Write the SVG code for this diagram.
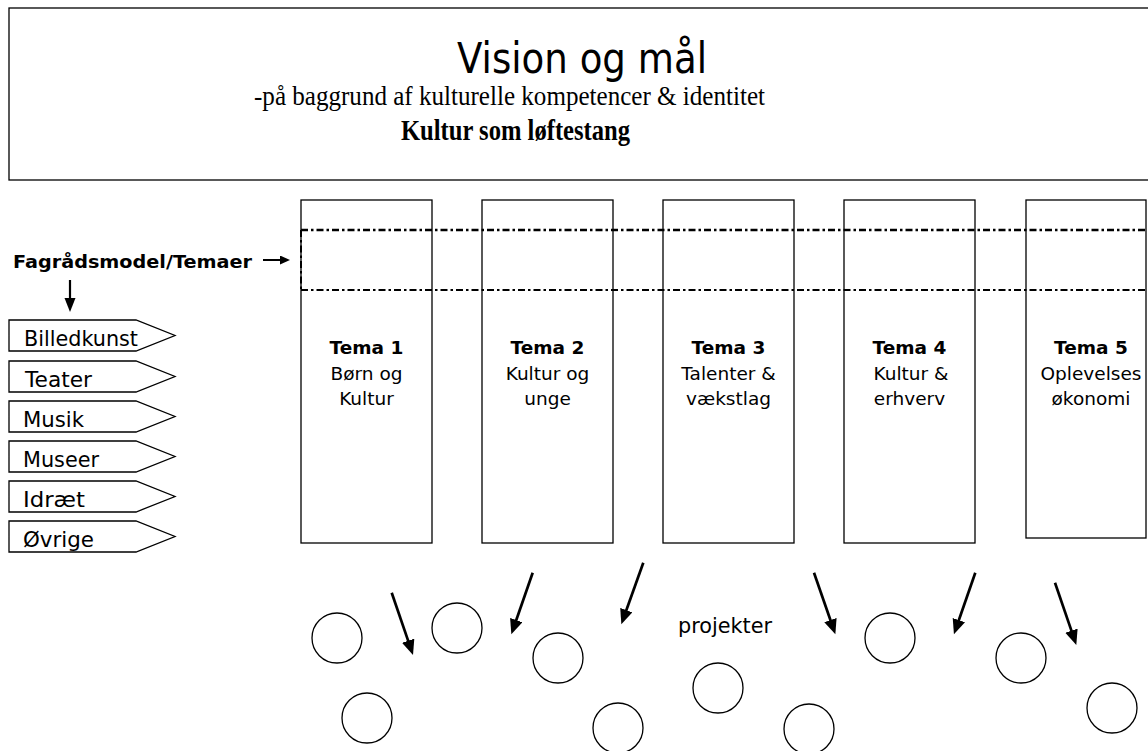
<svg xmlns="http://www.w3.org/2000/svg" width="1148" height="751" viewBox="0 0 1148 751">
<style>
.box{fill:#fff;stroke:#000;stroke-width:1.3}
.sans{font-family:"DejaVu Sans","Liberation Sans",sans-serif;fill:#000}
.serif{font-family:"Liberation Serif","Times New Roman",serif;fill:#000}
.tema{font-size:18.5px;text-anchor:middle}
.tag{font-size:22px}
.dd{fill:none;stroke:#000;stroke-dasharray:7 3 2.5 3}
.arr{stroke:#000;stroke-width:2.7;fill:none}
.circ{fill:none;stroke:#000;stroke-width:1.3}
</style>
<defs>
<marker id="ah" markerUnits="userSpaceOnUse" markerWidth="18" markerHeight="14" refX="2" refY="6.5" orient="auto">
<path d="M0,0 L15,6.5 L0,13 z" fill="#000"/>
</marker>
<marker id="ahs" markerUnits="userSpaceOnUse" markerWidth="12" markerHeight="10" refX="1" refY="4.5" orient="auto">
<path d="M0,0 L10,4.5 L0,9 z" fill="#000"/>
</marker>
<marker id="ahd" markerUnits="userSpaceOnUse" markerWidth="15" markerHeight="13" refX="1" refY="5.5" orient="auto">
<path d="M0,0 L14,5.5 L0,11 z" fill="#000"/>
</marker>
</defs>
<rect width="1148" height="751" fill="#fff"/>

<g id="vision">
<rect class="box" x="9" y="8" width="1150" height="172"/>
<text class="sans" x="582" y="73" font-size="42" text-anchor="middle" textLength="250" lengthAdjust="spacingAndGlyphs">Vision og mål</text>
<text class="serif" x="509.5" y="105" font-size="28" text-anchor="middle" textLength="511" lengthAdjust="spacingAndGlyphs">-på baggrund af kulturelle kompetencer &amp; identitet</text>
<text class="serif" x="515.5" y="140" font-size="30" font-weight="bold" text-anchor="middle" textLength="229" lengthAdjust="spacingAndGlyphs">Kultur som løftestang</text>
</g>

<g id="tema1">
<rect class="box" x="301" y="200" width="131" height="343"/>
<text class="sans tema" x="366.5" y="354" font-weight="bold">Tema 1</text>
<text class="sans tema" x="366.5" y="380">Børn og</text>
<text class="sans tema" x="366.5" y="405">Kultur</text>
</g>
<g id="tema2">
<rect class="box" x="482" y="200" width="131" height="343"/>
<text class="sans tema" x="547.5" y="354" font-weight="bold">Tema 2</text>
<text class="sans tema" x="547.5" y="380">Kultur og</text>
<text class="sans tema" x="547.5" y="405">unge</text>
</g>
<g id="tema3">
<rect class="box" x="663" y="200" width="131" height="343"/>
<text class="sans tema" x="728.5" y="354" font-weight="bold">Tema 3</text>
<text class="sans tema" x="728.5" y="380">Talenter &amp;</text>
<text class="sans tema" x="728.5" y="405">vækstlag</text>
</g>
<g id="tema4">
<rect class="box" x="844" y="200" width="131" height="343"/>
<text class="sans tema" x="909.5" y="354" font-weight="bold">Tema 4</text>
<text class="sans tema" x="911" y="380">Kultur &amp;</text>
<text class="sans tema" x="909.5" y="405">erhverv</text>
</g>
<g id="tema5">
<rect class="box" x="1026" y="200" width="120" height="338"/>
<text class="sans tema" x="1091" y="354" font-weight="bold">Tema 5</text>
<text class="sans tema" x="1091" y="380">Oplevelses</text>
<text class="sans tema" x="1091" y="405">økonomi</text>
</g>

<g id="fagraad-band">
<line class="dd" x1="301" y1="230" x2="1150" y2="230" stroke-width="2.6"/>
<line class="dd" x1="301" y1="290" x2="1150" y2="290" stroke-width="2"/>
<line class="dd" x1="301" y1="230" x2="301" y2="290" stroke-width="2"/>
</g>

<g id="fagraad-label">
<text class="sans" x="13" y="268" font-size="18" font-weight="bold" textLength="239" lengthAdjust="spacingAndGlyphs">Fagrådsmodel/Temaer</text>
</g>

<g id="billedkunst">
<polygon class="box" points="9,320 136,320 175,335.5 136,351 9,351"/>
<text class="sans tag" x="24" y="346" textLength="114" lengthAdjust="spacingAndGlyphs">Billedkunst</text>
</g>
<g id="teater">
<polygon class="box" points="9,361 136,361 175,376.5 136,392 9,392"/>
<text class="sans tag" x="25" y="387" textLength="67" lengthAdjust="spacingAndGlyphs">Teater</text>
</g>
<g id="musik">
<polygon class="box" points="9,401 136,401 175,416.5 136,432 9,432"/>
<text class="sans tag" x="23" y="427" textLength="61" lengthAdjust="spacingAndGlyphs">Musik</text>
</g>
<g id="museer">
<polygon class="box" points="9,441 136,441 175,456.5 136,472 9,472"/>
<text class="sans tag" x="23" y="467" textLength="76" lengthAdjust="spacingAndGlyphs">Museer</text>
</g>
<g id="idraet">
<polygon class="box" points="9,481 136,481 175,496.5 136,512 9,512"/>
<text class="sans tag" x="23" y="507" textLength="62" lengthAdjust="spacingAndGlyphs">Idræt</text>
</g>
<g id="ovrige">
<polygon class="box" points="9,521 136,521 175,536.5 136,552 9,552"/>
<text class="sans tag" x="23" y="547" textLength="71" lengthAdjust="spacingAndGlyphs">Øvrige</text>
</g>

<g id="projekter">
<text class="sans" x="678" y="633" font-size="21" textLength="94" lengthAdjust="spacingAndGlyphs">projekter</text>
<circle class="circ" cx="337" cy="638" r="25"/>
<circle class="circ" cx="457" cy="628" r="25"/>
<circle class="circ" cx="558" cy="658" r="25"/>
<circle class="circ" cx="367" cy="718" r="25"/>
<circle class="circ" cx="618" cy="728" r="25"/>
<circle class="circ" cx="718" cy="688" r="25"/>
<circle class="circ" cx="809" cy="729" r="25"/>
<circle class="circ" cx="890" cy="638" r="25"/>
<circle class="circ" cx="1021" cy="658" r="25"/>
<circle class="circ" cx="1112" cy="708" r="25"/>
</g>

<g id="connectors">
<line stroke="#000" stroke-width="2" x1="263" y1="260" x2="281" y2="260" marker-end="url(#ahs)"/>
<line stroke="#000" stroke-width="2.2" x1="70" y1="280" x2="70" y2="299" marker-end="url(#ahd)"/>
<line class="arr" x1="391.7" y1="592.7" x2="408.8" y2="642.6" marker-end="url(#ah)"/>
<line class="arr" x1="532.7" y1="572.7" x2="515.6" y2="622" marker-end="url(#ah)"/>
<line class="arr" x1="643.3" y1="562.7" x2="625.7" y2="612" marker-end="url(#ah)"/>
<line class="arr" x1="814" y1="572.7" x2="831.1" y2="622" marker-end="url(#ah)"/>
<line class="arr" x1="975.3" y1="572.7" x2="958.2" y2="622" marker-end="url(#ah)"/>
<line class="arr" x1="1055" y1="582.7" x2="1072.1" y2="632.6" marker-end="url(#ah)"/>
</g>
</svg>
